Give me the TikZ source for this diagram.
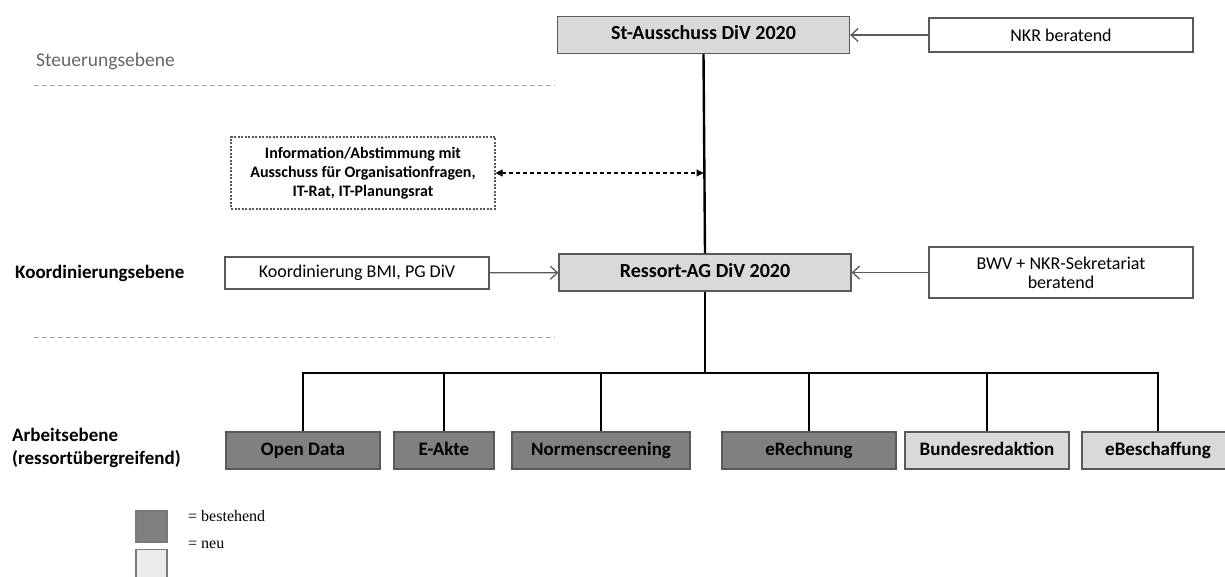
\documentclass[tikz,border=0pt]{standalone}
\usepackage{fontspec}
\setsansfont{Carlito}
\newfontfamily\legendfont{Liberation Serif}
\usetikzlibrary{arrows.meta}
\definecolor{headgray}{HTML}{D9D9D9}
\definecolor{oldgray}{HTML}{808080}
\definecolor{newgray}{HTML}{D9D9D9}
\definecolor{framegray}{HTML}{595959}
\definecolor{levelgray}{HTML}{666666}
\definecolor{sepgray}{HTML}{A6A6A6}
\begin{document}
\begin{tikzpicture}[x=1pt,y=-1pt,
    box/.style={draw=framegray,line width=1.3pt,inner sep=0pt,align=center,font=\sffamily\fontsize{18}{20}\selectfont},
    head/.style={box,fill=headgray,minimum width=292,minimum height=37,text height=13pt,text depth=4pt,
        font=\sffamily\bfseries\fontsize{20}{22}\selectfont},
    side/.style={box,fill=white,minimum width=264},
    work/.style={box,minimum height=37,text height=13pt,text depth=4pt,font=\sffamily\bfseries\fontsize{19}{21}\selectfont},
    level/.style={anchor=west,align=left,inner sep=0pt,font=\sffamily\bfseries\fontsize{19}{23}\selectfont},
    sep/.style={sepgray,line width=0.9pt,dash pattern=on 5pt off 3pt},
    feed/.style={draw=framegray,line width=1.3pt,-{Straight Barb[length=7pt,width=13pt]}},
    tree/.style={line width=2.4pt},
    legbox/.style={draw=framegray!80,line width=1.2pt,minimum size=31,inner sep=0pt},
    legtext/.style={anchor=west,inner sep=0pt,font=\legendfont\fontsize{16}{18}\selectfont}]
    \useasboundingbox (0,0) rectangle (1225,577);
    %% Steuerungsebene
    \node[level,font=\sffamily\fontsize{19.5}{23}\selectfont,text=levelgray] (lst) at (36,61) {Steuerungsebene};
    \draw[sep] (34,85) -- (555,85);
    \node[head] (st) at (703.5,35) {St-Ausschuss DiV 2020};
    \node[side,minimum height=34] (nkr) at (1061,35) {NKR beratend};
    \draw[feed] (nkr) -- (st);
    %% Abstimmung
    \node[box,dashed,dash pattern=on 2pt off 1.5pt,line width=1.1pt,minimum width=264,minimum height=72,
        font=\sffamily\bfseries\fontsize{16}{19}\selectfont] (info) at (363,173)
        {Information/Abstimmung mit\\ Ausschuss für Organisationfragen,\\ IT-Rat, IT-Planungsrat};
    %% Koordinierungsebene
    \node[level] (lko) at (15,273) {Koordinierungsebene};
    \node[side,minimum height=32] (bmi) at (357,273) {Koordinierung BMI, PG DiV};
    \node[head] (ra) at (705,272.5) {Ressort-AG DiV 2020};
    \node[side,minimum height=51,font=\sffamily\fontsize{18}{19}\selectfont] (bwv) at (1061,272.5) {BWV + NKR-Sekretariat\\ beratend};
    \draw[feed] (bmi) -- (ra);
    \draw[feed] (bwv) -- (ra);
    \draw[sep] (34,337) -- (555,337);
    \draw[tree] (st.south) -- (ra.north);
    \draw[dashed,dash pattern=on 4pt off 3pt,line width=1.1pt,
        {Triangle[length=7pt,width=7pt]}-{Triangle[length=7pt,width=7pt]}] (info.east) -- (info.east -| st.south);
    %% Arbeitsebene
    \node[level] (lar) at (12,447.5) {Arbeitsebene\\(ressortübergreifend)};
    \node[work,fill=oldgray,minimum width=154] (od) at (303,450.5) {Open Data};
    \node[work,fill=oldgray,minimum width=100] (ea) at (444,450.5) {E-Akte};
    \node[work,fill=oldgray,minimum width=178] (nr) at (601,450.5) {Normenscreening};
    \node[work,fill=oldgray,minimum width=174] (er) at (809,450.5) {eRechnung};
    \node[work,fill=newgray,minimum width=164] (br) at (987,450.5) {Bundesredaktion};
    \node[work,fill=newgray,minimum width=152] (eb) at (1158,450.5) {eBeschaffung};
    \coordinate (bus) at (ra.south |- 0,373);
    \draw[tree] (ra.south) -- (bus);
    \draw[tree] (od.north) |- (bus) -| (eb.north);
    \foreach \n in {ea,nr,er,br}
        \draw[tree] (\n.north) -- (\n.north |- bus);
    %% Legende
    \node[legbox,fill=oldgray] (lgold) at (151.5,526.5) {};
    \node[legbox,fill=black!8] (lgnew) at (151.5,565) {};
    \node[legtext] (txold) at (188,516) {= bestehend};
    \node[legtext] (txnew) at (188,545) {= neu};
\end{tikzpicture}
\end{document}
